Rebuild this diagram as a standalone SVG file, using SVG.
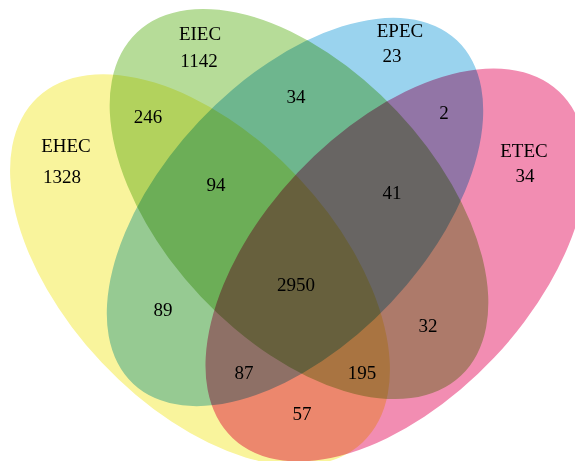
<svg xmlns="http://www.w3.org/2000/svg" width="575" height="461" viewBox="0 0 575 461">
<style>
.set{mix-blend-mode:multiply;stroke:none}
text{font-family:"Liberation Serif","Times New Roman",serif;font-size:19px;fill:#000000;text-anchor:middle}
</style>
<rect width="575" height="461" fill="#ffffff"/>
<g id="shapes">
<g id="EHEC"><ellipse class="set" cx="200" cy="270" rx="237" ry="135" transform="rotate(46.7 200 270)" fill="#f9f49c"/></g>
<g id="EIEC"><ellipse class="set" cx="299" cy="204" rx="236" ry="135" transform="rotate(46.7 299 204)" fill="#b6dc98"/></g>
<g id="EPEC"><ellipse class="set" cx="295" cy="212" rx="236" ry="132" transform="rotate(-46.7 295 212)" fill="#9ad3ee"/></g>
<g id="ETEC"><ellipse class="set" cx="396" cy="265" rx="238" ry="135" transform="rotate(-46.7 396 265)" fill="#f28db2"/></g>
</g>
<g id="connectors"/>
<g id="labels">
<g id="label-EHEC"><text x="66" y="152">EHEC</text><text x="62" y="183">1328</text></g>
<g id="label-EIEC"><text x="200" y="40">EIEC</text><text x="199" y="67">1142</text></g>
<g id="label-EPEC"><text x="400" y="37">EPEC</text><text x="392" y="62">23</text></g>
<g id="label-ETEC"><text x="524" y="157">ETEC</text><text x="525" y="182">34</text></g>
</g>
<g id="regions">
<text x="148" y="123">246</text>
<text x="296" y="103">34</text>
<text x="444" y="119">2</text>
<text x="216" y="191">94</text>
<text x="392" y="199">41</text>
<text x="296" y="291">2950</text>
<text x="163" y="316">89</text>
<text x="428" y="332">32</text>
<text x="244" y="379">87</text>
<text x="362" y="379">195</text>
<text x="302" y="420">57</text>
</g>
</svg>
